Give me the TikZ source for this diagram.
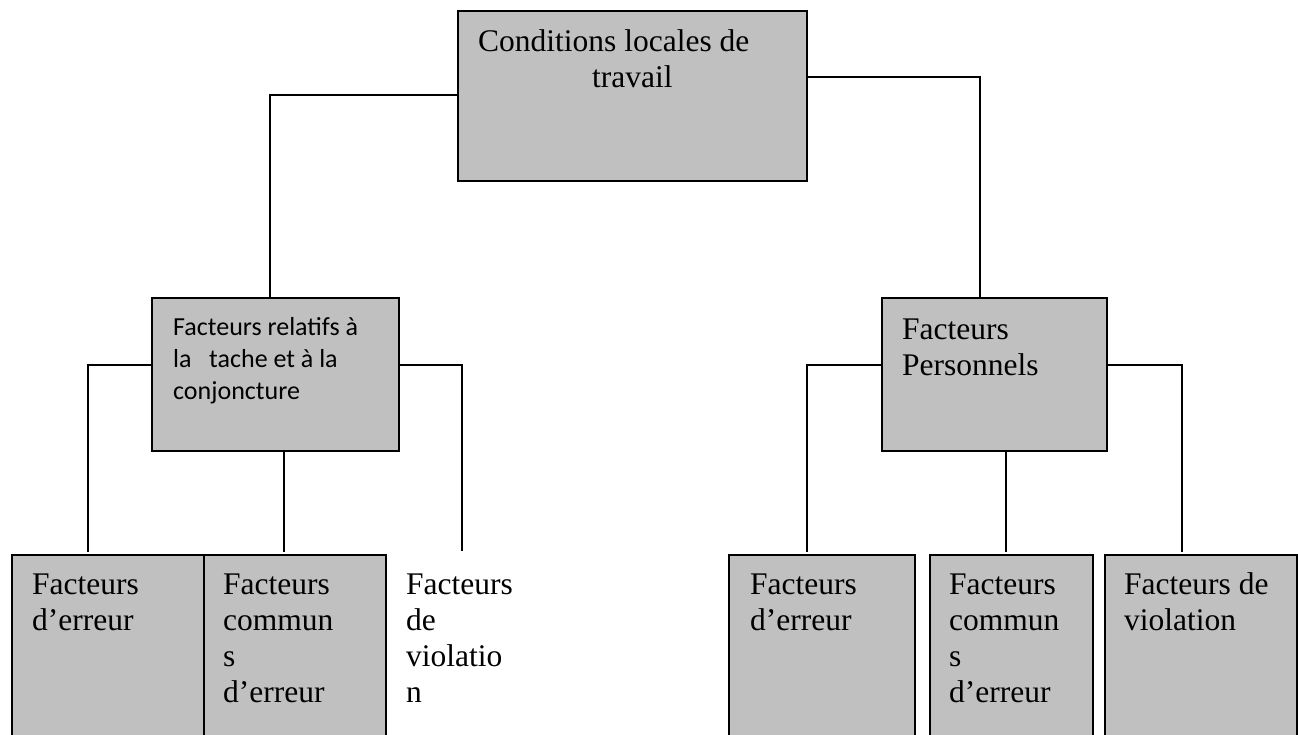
\documentclass[tikz,border=0pt]{standalone}
\usepackage{fontspec}
\setmainfont{Liberation Serif}
\newfontfamily\calibrifont{Carlito}
\definecolor{boxgray}{RGB}{192,192,192}
\begin{document}
\begin{tikzpicture}[x=1pt,y=-1pt,
  box/.style={draw=black, fill=boxgray, line width=1.8pt, inner sep=0pt, anchor=north west},
  link/.style={draw=black, line width=1.2pt},
  % multi-line labels are placed by the baseline of their last line
  lbl/.style={anchor=base west, inner sep=0pt, align=left,
              font=\fontsize{31.5}{36}\selectfont},
  smalllbl/.style={anchor=base west, inner sep=0pt, align=left,
              font=\calibrifont\fontsize{26}{32}\selectfont}
]
\clip (0,0) rectangle (1298,734);
\fill[white] (0,0) rectangle (1298,734);

% boxes
\node[box, minimum width=349, minimum height=170] (top) at (457,10) {};
\node[box, minimum width=247, minimum height=153] (ml) at (151,297) {};
\node[box, minimum width=225, minimum height=153] (mr) at (881,297) {};
\node[box, minimum width=192, minimum height=200] (bl1) at (11,554) {};
\node[box, minimum width=182, minimum height=200] (bl2) at (203,554) {};
\node[box, minimum width=186, minimum height=200] (br1) at (728,554) {};
\node[box, minimum width=163, minimum height=200] (br2) at (929,554) {};
\node[box, minimum width=192, minimum height=200] (br3) at (1104,554) {};

% texts
\node[lbl] (ttop) at (478,87) {Conditions locales de\\\hspace*{114pt}travail};
\node[smalllbl] (tml) at (173,399) {Facteurs relatifs à\\la\ \ \ tache et à la\\conjoncture};
\node[lbl] (tmr) at (902,375) {Facteurs\\Personnels};
\node[lbl] (tbl1) at (32,630) {Facteurs\\d’erreur};
\node[lbl] (tbl2) at (223,702) {Facteurs\\commun\\s\\d’erreur};
\node[lbl] (vio) at (406,702) {Facteurs\\de\\violatio\\n};
\node[lbl] (tbr1) at (750,630) {Facteurs\\d’erreur};
\node[lbl] (tbr2) at (949,702) {Facteurs\\commun\\s\\d’erreur};
\node[lbl] (tbr3) at (1124,630) {Facteurs de\\violation};

% connector bends
\coordinate (jl) at (270,95);
\coordinate (jr) at (980,77);
\coordinate (a1) at (88,365);
\coordinate (a2) at (284,365);
\coordinate (a3) at (462,365);
\coordinate (vend) at (462,551);
\coordinate (b1) at (807,365);
\coordinate (b2) at (1006,365);
\coordinate (b3) at (1182,365);

\draw[link] (top.west |- jl) -- (jl) -- (jl |- ml.north);
\draw[link] (top.east |- jr) -- (jr) -- (jr |- mr.north);

\draw[link, shorten >=2pt] (ml.west |- a1) -- (a1) -- (a1 |- bl1.north);
\draw[link, shorten >=2pt] (ml.south -| a2) -- (a2 |- bl2.north);
\draw[link] (ml.east |- a3) -- (a3) -- (vend);

\draw[link, shorten >=2pt] (mr.west |- b1) -- (b1) -- (b1 |- br1.north);
\draw[link, shorten >=2pt] (mr.south -| b2) -- (b2 |- br2.north);
\draw[link, shorten >=2pt] (mr.east |- b3) -- (b3) -- (b3 |- br3.north);
\end{tikzpicture}
\end{document}
